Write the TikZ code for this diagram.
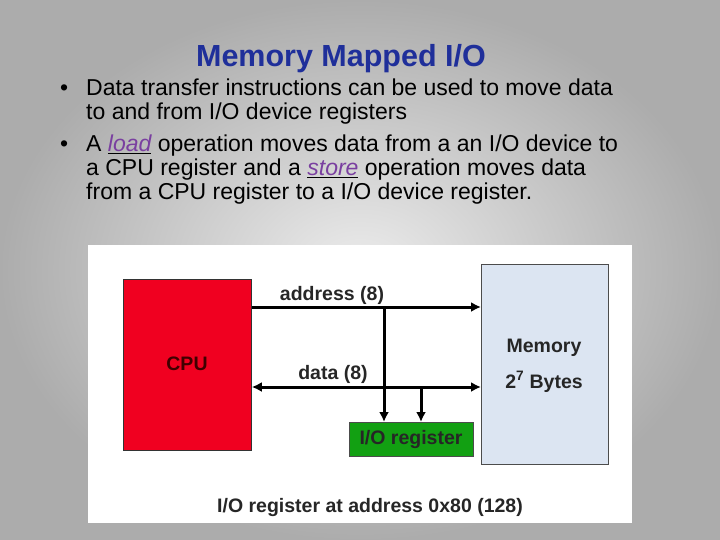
\documentclass[tikz,border=0pt]{standalone}
\usepackage{fontspec}
\setmainfont{Liberation Sans}
\usetikzlibrary{arrows.meta}
\definecolor{titleblue}{HTML}{1F2F9A}
\definecolor{linkp}{HTML}{7A3FA0}
\definecolor{cpured}{HTML}{F00020}
\definecolor{regreen}{HTML}{12A012}
\definecolor{memblue}{HTML}{DCE5F2}
\begin{document}
\begin{tikzpicture}[x=1pt,y=-1pt,
  box/.style={draw=black!70,line width=0.8pt,inner sep=0pt,anchor=north west},
  bus/.style={line width=3pt,-{Latex[length=10pt,width=10pt]}},
  lab/.style={font=\bfseries\fontsize{19.5}{22}\selectfont,text=black!85},
  txt/.style={anchor=base west,inner sep=0pt,font=\fontsize{23}{26}\selectfont}]
\useasboundingbox (0,0) rectangle (720,540);
\shade[inner color=gray!15,outer color=gray!65] (0,0) rectangle (720,540);
\node[font=\bfseries\fontsize{30.5}{34}\selectfont,text=titleblue] (title) at (341,59) {Memory Mapped I/O};
\node[txt] (b1) at (60,96) {•};
\node[txt] (t1) at (86,96) {Data transfer instructions can be used to move data};
\node[txt] (t2) at (86,120) {to and from I/O device registers};
\node[txt] (b2) at (60,152) {•};
\node[txt] (t3) at (86,152) {A \underline{\textcolor{linkp}{\itshape load}} operation moves data from a an I/O device to};
\node[txt] (t4) at (86,176) {a CPU register and a \underline{\textcolor{linkp}{\itshape store}} operation moves data};
\node[txt] (t5) at (86,200) {from a CPU register to a I/O device register.};
\fill[white] (88,245) rectangle (632,523);
\node[box,draw=black!80,fill=cpured,minimum width=128pt,minimum height=171pt] (cpu) at (123,279) {};
\node[lab,text=black!75!red] (cpul) at (187,364) {CPU};
\node[box,fill=memblue,minimum width=127pt,minimum height=200pt] (mem) at (481,264) {};
\node[lab] (meml) at (544,348) {Memory};
\node[lab] (memb) at (544,382) {2\textsuperscript{7} Bytes};
\node[box,fill=regreen,minimum width=124pt,minimum height=34pt] (io) at (349,422) {};
\node[lab] (iol) at (411,439) {I/O register};
\coordinate (a0) at (cpu.east |- 0,307);
\coordinate (a1) at (mem.west |- 0,307);
\coordinate (d0) at (cpu.east |- 0,387);
\coordinate (d1) at (mem.west |- 0,387);
\coordinate (va) at (384,307);
\coordinate (vd) at (421,387);
\draw[bus] (a0) -- (a1);
\draw[bus,{Latex[length=10pt,width=10pt]}-{Latex[length=10pt,width=10pt]}] (d0) -- (d1);
\draw[bus] (va) -- (va |- io.north);
\draw[bus] (vd) -- (vd |- io.north);
\node[lab] (al) at (332,295) {address (8)};
\node[lab] (dl) at (333,374) {data (8)};
\node[lab] (bot) at (370,507) {I/O register at address 0x80 (128)};
\end{tikzpicture}
\end{document}
